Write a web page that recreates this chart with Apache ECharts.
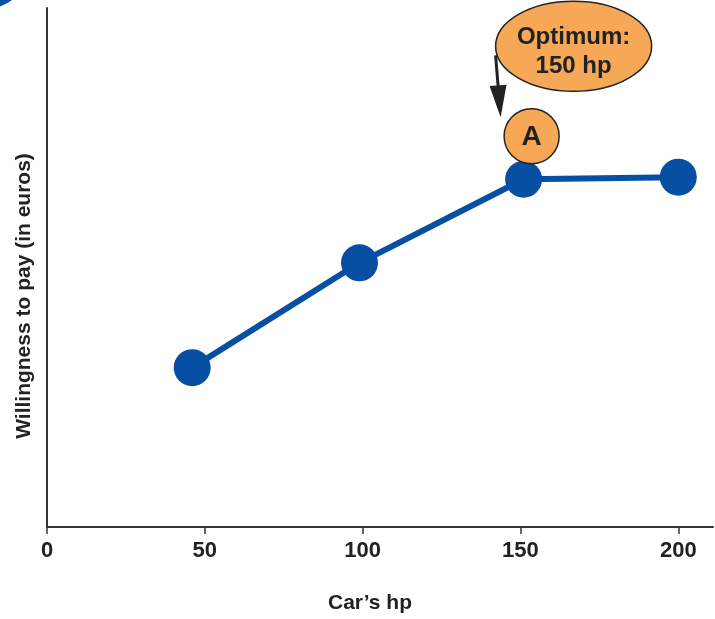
<!DOCTYPE html>
<html>
<head>
<meta charset="utf-8">
<script src="https://cdn.jsdelivr.net/npm/echarts@6/dist/echarts.min.js"></script>
<style>
html,body{margin:0;padding:0;background:#fff;}
#chart{width:715px;height:619px;}
</style>
</head>
<body>
<div id="chart"></div>
<script>
// Data
const hpValues = [46, 99, 151, 200];          // car horsepower (x)
const wtpValues = [30.7, 50.9, 67.0, 67.4];    // willingness to pay (relative units)
const xAxisTitle = "Car’s hp";
const yAxisTitle = "Willingness to pay (in euros)";
const calloutText = "Optimum:\n150 hp";
const pointLabel = "A";
const optimumIndex = 2;

const BLUE = '#064fa2';
const ORANGE = '#f6a856';
const FONT = "'Liberation Sans', Arial, sans-serif";

const chart = echarts.init(document.getElementById('chart'));
const seriesData = hpValues.map((x, i) => [x, wtpValues[i]]);

chart.setOption({
  animation: false,
  backgroundColor: '#fff',
  grid: { left: 47, right: 2, top: 8, bottom: 90 },
  xAxis: {
    type: 'value', min: 0, max: 211, interval: 50,
    splitLine: { show: false },
    axisLine: { show: true, lineStyle: { color: '#333', width: 2 } },
    axisTick: { show: true, length: 7, lineStyle: { color: '#333', width: 1.5 } },
    axisLabel: {
      margin: 13, color: '#222', fontSize: 22, fontWeight: 'bold', fontFamily: FONT,
      showMaxLabel: false,
      formatter: v => (v % 50 === 0 && v <= 200) ? String(v) : ''
    },
    name: xAxisTitle, nameLocation: 'middle', nameGap: 66,
    nameTextStyle: { color: '#222', fontSize: 21, fontWeight: 'bold', fontFamily: FONT, padding: [0, 20, 0, 0] }
  },
  yAxis: {
    type: 'value', min: 0, max: 100,
    splitLine: { show: false },
    axisLine: { show: true, lineStyle: { color: '#333', width: 2 } },
    axisTick: { show: false },
    axisLabel: { show: false },
    name: yAxisTitle, nameLocation: 'middle', nameGap: 12,
    nameTextStyle: { color: '#222', fontSize: 21, fontWeight: 'bold', fontFamily: FONT, padding: [0, 57, 0, 0] }
  },
  series: [{
    type: 'line',
    data: seriesData,
    symbol: 'circle',
    symbolSize: 37,
    itemStyle: { color: BLUE },
    lineStyle: { color: BLUE, width: 6 },
    z: 3
  }]
});

const a = chart.convertToPixel({ gridIndex: 0 }, seriesData[optimumIndex]);
const ax = a[0], ay = a[1];

// arrow geometry relative to the optimum point
const tip = [ax - 23, ay - 62];
const start = [ax - 28, ay - 124];
const dx = tip[0] - start[0], dy = tip[1] - start[1];
const len = Math.sqrt(dx * dx + dy * dy);
const ux = dx / len, uy = dy / len;
const headLen = 32, headHalf = 8.5;
const bx = tip[0] - ux * headLen, by = tip[1] - uy * headLen;

chart.setOption({
  graphic: [
    { type: 'circle', shape: { cx: -15, cy: -36, r: 45 }, style: { fill: BLUE }, z: 10 },
    {
      type: 'ellipse', shape: { cx: ax + 50, cy: ay - 133, rx: 78, ry: 45 },
      style: { fill: ORANGE, stroke: '#222', lineWidth: 1.5 }, z: 10
    },
    {
      type: 'text', x: ax + 50, y: ay - 127,
      style: { text: calloutText, fill: '#222', font: "bold 24px " + FONT, align: 'center', verticalAlign: 'middle', lineHeight: 29 },
      z: 11
    },
    {
      type: 'line', shape: { x1: start[0], y1: start[1], x2: bx + ux * 2, y2: by + uy * 2 },
      style: { stroke: '#222', lineWidth: 3 }, z: 11
    },
    {
      type: 'polygon',
      shape: { points: [tip, [bx - uy * headHalf, by + ux * headHalf], [bx + uy * headHalf, by - ux * headHalf]] },
      style: { fill: '#222' }, z: 11
    },
    {
      type: 'circle', shape: { cx: ax + 8, cy: ay - 43, r: 27.5 },
      style: { fill: ORANGE, stroke: '#222', lineWidth: 1.5 }, z: 10
    },
    {
      type: 'text', x: ax + 8, y: ay - 42,
      style: { text: pointLabel, fill: '#222', font: "bold 28px " + FONT, align: 'center', verticalAlign: 'middle' },
      z: 11
    }
  ]
});
</script>
</body>
</html>
